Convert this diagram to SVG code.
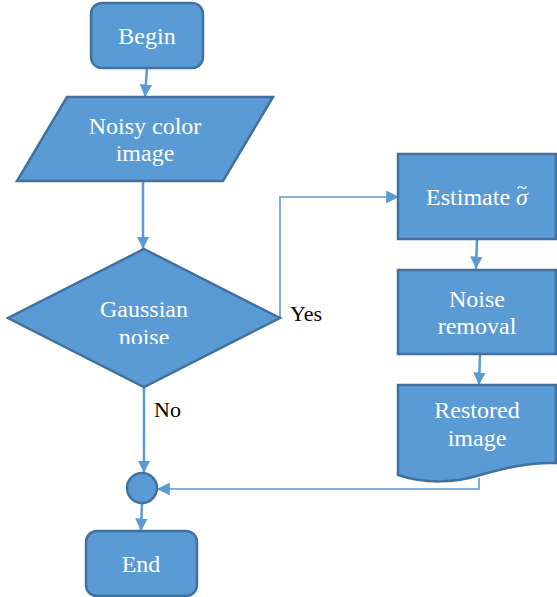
<svg xmlns="http://www.w3.org/2000/svg" width="557" height="597" viewBox="0 0 557 597">
<style>
.shape{fill:#5B9BD5;stroke:#41719C;stroke-width:2.5}
.t{font-size:24px;fill:#fff;text-anchor:middle}
.lbl{font-size:22px;fill:#000}
.c{fill:none;stroke:#5B9BD5;stroke-width:2.5}
.c2{fill:none;stroke:#5B9BD5;stroke-width:1.6}
</style>
<defs>
<marker id="ah" viewBox="0 0 10 10" refX="10" refY="5" markerWidth="5" markerHeight="5" markerUnits="strokeWidth" orient="auto">
<path d="M0,0 L10,5 L0,10 Z" fill="#5B9BD5"/>
</marker>
<marker id="ah2" viewBox="0 0 10 10" refX="10" refY="5" markerWidth="8" markerHeight="8" markerUnits="strokeWidth" orient="auto">
<path d="M0,0 L10,5 L0,10 Z" fill="#5B9BD5"/>
</marker>
<clipPath id="dclip"><rect x="0" y="0" width="557" height="344"/></clipPath>
</defs>
<g id="connectors">
<path class="c" d="M147,68 L145,97" marker-end="url(#ah)"/>
<path class="c" d="M143,181 L143,249" marker-end="url(#ah)"/>
<path class="c2" d="M280,318 V197 H399" marker-end="url(#ah2)"/>
<path class="c" d="M477,239 L476,269" marker-end="url(#ah)"/>
<path class="c" d="M480,354 L479,385" marker-end="url(#ah)"/>
<path class="c2" d="M479,478 V489 H157" marker-end="url(#ah2)"/>
<path class="c" d="M144,387 V473" marker-end="url(#ah)"/>
<path class="c" d="M142,503 L141,531" marker-end="url(#ah)"/>
</g>
<g font-family="'Liberation Serif', 'Times New Roman', 'DejaVu Serif', serif">
<g id="begin">
<rect class="shape" x="91" y="3" width="112" height="65" rx="11"/>
<text class="t" x="147" y="44">Begin</text>
</g>
<g id="input">
<polygon class="shape" points="67,97 273,97 223,181 17,181"/>
<text class="t" x="145" y="134">Noisy color</text>
<text class="t" x="145" y="161">image</text>
</g>
<g id="decision">
<polygon class="shape" points="144,249 280,318 144,387 8,318"/>
<g clip-path="url(#dclip)">
<text class="t" x="144" y="317">Gaussian</text>
<text class="t" x="144" y="345">noise</text>
</g>
</g>
<text class="lbl" x="290" y="321">Yes</text>
<text class="lbl" x="154" y="417">No</text>
<g id="estimate">
<rect class="shape" x="398" y="154" width="158" height="85"/>
<text class="t" x="477" y="205">Estimate <tspan font-style="italic">σ</tspan><tspan dx="-11" dy="-11" font-size="18">~</tspan></text>
</g>
<g id="removal">
<rect class="shape" x="398" y="270" width="158" height="84"/>
<text class="t" x="477" y="307">Noise</text>
<text class="t" x="477" y="334">removal</text>
</g>
<g id="restored">
<path class="shape" d="M398,385 H556 V463 C530,462 505,468 480,475 C455,483 425,484 398,475 Z"/>
<text class="t" x="477" y="418">Restored</text>
<text class="t" x="477" y="446">image</text>
</g>
<g id="merge">
<circle class="shape" cx="142" cy="488" r="15"/>
</g>
<g id="end">
<rect class="shape" x="86" y="531" width="111" height="65" rx="11"/>
<text class="t" x="141" y="572">End</text>
</g>
</g>
</svg>
